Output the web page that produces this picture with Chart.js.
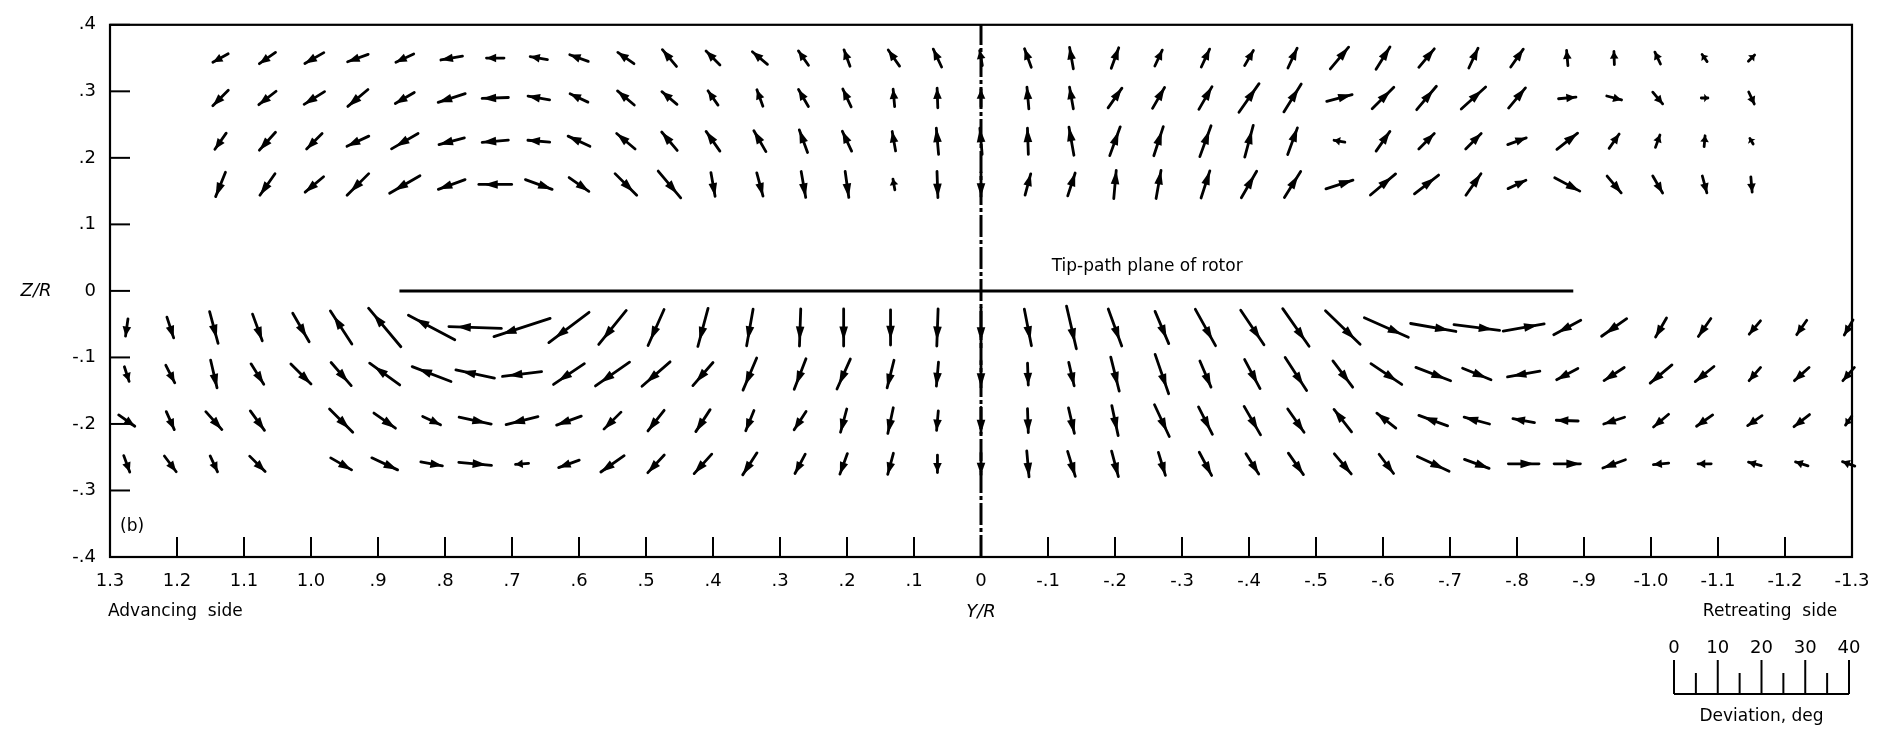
<!DOCTYPE html>
<html>
<head>
<meta charset="utf-8">
<script src="https://cdn.jsdelivr.net/npm/chart.js@4.4.0/dist/chart.umd.min.js"></script>
<style>
html, body { margin: 0; padding: 0; background: #fff; }
</style>
</head>
<body>
<canvas id="myChart" width="1888" height="733"></canvas>
<script>
// axis ticks
var xTickValues = [1.3, 1.2, 1.1, 1.0, 0.9, 0.8, 0.7, 0.6, 0.5, 0.4, 0.3, 0.2, 0.1, 0, -0.1, -0.2, -0.3, -0.4, -0.5, -0.6, -0.7, -0.8, -0.9, -1.0, -1.1, -1.2, -1.3];
var xTickLabels = ['1.3', '1.2', '1.1', '1.0', '.9', '.8', '.7', '.6', '.5', '.4', '.3', '.2', '.1', '0', '-.1', '-.2', '-.3', '-.4', '-.5', '-.6', '-.7', '-.8', '-.9', '-1.0', '-1.1', '-1.2', '-1.3'];
var yTickValues = [0.4, 0.3, 0.2, 0.1, 0, -0.1, -0.2, -0.3, -0.4];
var yTickLabels = ['.4', '.3', '.2', '.1', '0', '-.1', '-.2', '-.3', '-.4'];

// survey stations (Y/R) and rows (Z/R)
var upperStations = [1.135, 1.065, 0.995, 0.93, 0.86, 0.79, 0.725, 0.66, 0.6, 0.53, 0.465, 0.4, 0.33, 0.265, 0.2, 0.13, 0.065, 0, -0.07, -0.135, -0.2, -0.265, -0.335, -0.4, -0.465, -0.535, -0.6, -0.665, -0.735, -0.8, -0.875, -0.945, -1.01, -1.08, -1.15];
var upperRows = [0.35, 0.29, 0.225, 0.16];
var lowerStations = [1.275, 1.21, 1.145, 1.08, 1.015, 0.955, 0.89, 0.82, 0.755, 0.685, 0.615, 0.55, 0.485, 0.415, 0.345, 0.27, 0.205, 0.135, 0.065, 0, -0.07, -0.135, -0.2, -0.27, -0.335, -0.405, -0.47, -0.54, -0.605, -0.675, -0.74, -0.81, -0.875, -0.945, -1.015, -1.08, -1.155, -1.225, -1.295];
var lowerRows = [-0.055, -0.125, -0.195, -0.26];

// flow direction (deg, 0 = right, 90 = up) and deviation (deg) for each row
var dirU1 = [209, 215, 210, 200, 205, 190, 180, 170, 160, 145, 130, 135, 140, 125, 110, 125, 115, 100, 110, 100, 70, 65, 65, 60, 65, 50, 58, 50, 65, 55, 95, 92, 115, 125, 45];
var devU1 = [4, 4.5, 5, 5, 4.5, 5, 4, 4, 4.5, 4.5, 5, 4.5, 4.5, 4, 4, 4.5, 4.5, 3.5, 4.5, 5, 5, 4, 4.5, 4, 5, 6.5, 6, 5.5, 5, 5, 3.5, 3, 3, 2, 2];
var dirU2 = [225, 218, 212, 220, 210, 198, 182, 170, 155, 140, 140, 125, 110, 120, 115, 95, 92, 90, 95, 100, 55, 60, 60, 55, 58, 15, 45, 50, 42, 50, 5, 345, 310, 0, 295];
var devU2 = [5, 5, 5.5, 6, 5, 6.5, 6, 5, 4.5, 5, 4.5, 4, 4, 4.5, 4.5, 4, 4.5, 4, 5, 5, 5.5, 5.5, 6, 8, 7.5, 6, 7, 7, 7.5, 6, 4, 3.5, 3.5, 1.5, 3];
var dirU3 = [235, 228, 225, 205, 210, 195, 185, 175, 155, 140, 130, 125, 120, 110, 115, 100, 95, 95, 92, 100, 70, 72, 70, 75, 70, 170, 55, 45, 45, 20, 38, 55, 70, 85, 120];
var devU3 = [4.5, 5.5, 5, 5.5, 7, 6, 6, 5, 5.5, 5.5, 5.5, 5.5, 5.5, 5.5, 5, 4.5, 6, 6, 6, 6.5, 7, 7, 7.5, 7.5, 6.5, 2.5, 5.5, 5, 5, 4.5, 6, 4, 3, 2.5, 1.5];
var dirU4 = [248, 235, 220, 225, 210, 200, 180, 340, 325, 315, 310, 280, 285, 280, 278, 100, 272, 270, 75, 72, 85, 80, 72, 60, 58, 18, 40, 38, 55, 25, 332, 310, 300, 285, 275];
var devU4 = [6, 6, 5.5, 7, 8, 6.5, 7.5, 6.5, 5.5, 7, 8, 5.5, 5.5, 6, 6, 2.5, 6, 5.5, 5, 5.5, 6.5, 6.5, 6.5, 7, 7, 6.5, 7.5, 7, 6, 4.5, 6.5, 5, 4.5, 4, 3.5];

var dirL1 = [262, 288, 285, 290, 300, 123, 130, 152, 178, 198, 217, 231, 246, 255, 260, 268, 270, 270, 268, 270, 281, 283, 290, 293, 299, 304, 305, 316, 336, 350, 353, 10, 208, 215, 240, 235, 230, 235, 240];
var devL1 = [4, 5, 7.5, 6.5, 7.5, 9, 11.5, 12, 12, 13.5, 11.5, 10, 9, 9, 8.5, 8.5, 8.5, 8, 8.5, 9, 8.5, 10, 9, 8, 9.5, 9.5, 10.5, 11, 11, 10.5, 10.5, 9.5, 7, 7, 5, 5, 4, 4, 4];
var dirL2 = [288, 297, 283, 302, 315, 311, 144, 159, 168, 187, 214, 215, 221, 229, 247, 249, 246, 256, 265, 270, 272, 283, 284, 289, 293, 298, 303, 307, 326, 339, 338, 190, 208, 213, 220, 219, 229, 222, 229];
var devL2 = [3.5, 4.5, 6.5, 5.5, 6.5, 7, 8.5, 9.5, 9, 9, 8.5, 9.5, 8.5, 7, 8, 7.5, 7.5, 6.5, 5.5, 6, 5, 5.5, 8, 9.5, 6.5, 7.5, 9, 7.5, 8.5, 8.5, 7, 7.5, 5.5, 5.5, 6.5, 5.5, 4, 4.5, 4];
var dirL3 = [325, 294, 312, 306, null, 315, 325, 335, 348, 194, 200, 225, 232, 237, 248, 237, 255, 258, 265, 270, 272, 283, 282, 295, 297, 300, 305, 128, 142, 160, 165, 170, 178, 198, 220, 215, 215, 218, 235];
var devL3 = [4.5, 4.5, 5.5, 5.5, null, 7.5, 6, 4.5, 7.5, 7.5, 6, 5.5, 6, 6, 5, 5, 5.5, 6, 4.5, 6, 5.5, 6, 7, 8, 7, 7.5, 6.5, 6.5, 5.5, 7, 6, 5, 5, 5, 4.5, 4.5, 4, 4.5, 2.5];
var dirL4 = [290, 307, 295, 315, null, 330, 335, 350, 355, 185, 200, 215, 227, 228, 237, 242, 250, 255, 270, 270, 275, 287, 285, 287, 298, 302, 305, 310, 307, 335, 340, 0, 0, 200, 185, 180, 165, 162, 160];
var devL4 = [4, 4.5, 4, 5, null, 5.5, 6.5, 5, 7.5, 3, 5, 6.5, 5.5, 6, 6, 5, 5, 5, 4, 5, 6, 6, 6, 5.5, 6, 5.5, 6, 6, 5.5, 8, 6, 7, 6, 5.5, 3.5, 3, 3, 3, 3];

// reference lines
var tipPath = [{ x: 0.868, y: 0 }, { x: -0.884, y: 0 }];
var centerLine = [{ x: 0, y: -0.4 }, { x: 0, y: 0.4 }];

var deviationKey = [0, 5, 10, 15, 20, 25, 30, 35, 40];
var PX_PER_DEG = 175 / 40;
var FONT = 'DejaVu Sans';

function rowDataset(stations, z, dirs, devs) {
    var pts = [];
    stations.forEach(function(x, i) {
        if (dirs[i] === null) return;
        pts.push({ x: x, y: z, dir: dirs[i], dev: devs[i] });
    });
    return { data: pts, pointRadius: 0, showLine: false, arrows: true };
}

var datasets = [
    rowDataset(upperStations, upperRows[0], dirU1, devU1),
    rowDataset(upperStations, upperRows[1], dirU2, devU2),
    rowDataset(upperStations, upperRows[2], dirU3, devU3),
    rowDataset(upperStations, upperRows[3], dirU4, devU4),
    rowDataset(lowerStations, lowerRows[0], dirL1, devL1),
    rowDataset(lowerStations, lowerRows[1], dirL2, devL2),
    rowDataset(lowerStations, lowerRows[2], dirL3, devL3),
    rowDataset(lowerStations, lowerRows[3], dirL4, devL4),
    { data: tipPath, showLine: true, borderColor: '#000', borderWidth: 3, pointRadius: 0 },
    { data: centerLine, showLine: true, borderColor: '#000', borderWidth: 3, pointRadius: 0, borderDash: [22, 3, 4, 3] }
];

function drawArrow(ctx, cx, cy, dirDeg, dev) {
    var L = dev * PX_PER_DEG;
    var a = dirDeg * Math.PI / 180;
    var ux = Math.cos(a), uy = -Math.sin(a);
    var tx = cx - ux * L / 2, ty = cy - uy * L / 2;
    var hx = cx + ux * L / 2, hy = cy + uy * L / 2;
    ctx.beginPath();
    ctx.moveTo(tx, ty);
    ctx.lineTo(hx, hy);
    ctx.stroke();
    var inset = L > 30 ? L * 0.15 : 0;
    var hl = Math.min(14, L * 0.55), hw = 4.3;
    var px = hx - ux * inset, py = hy - uy * inset;
    var bx = px - ux * hl, by = py - uy * hl;
    ctx.beginPath();
    ctx.moveTo(px, py);
    ctx.lineTo(bx - uy * hw, by + ux * hw);
    ctx.lineTo(bx + uy * hw, by - ux * hw);
    ctx.closePath();
    ctx.fill();
}

var figurePlugin = {
    id: 'figure',
    afterDatasetsDraw: function(chart) {
        var ctx = chart.ctx;
        ctx.save();
        ctx.strokeStyle = '#000';
        ctx.fillStyle = '#000';
        ctx.lineWidth = 2.8;
        ctx.lineCap = 'round';
        chart.data.datasets.forEach(function(ds, i) {
            if (!ds.arrows) return;
            var meta = chart.getDatasetMeta(i);
            meta.data.forEach(function(el, j) {
                var p = ds.data[j];
                drawArrow(ctx, el.x, el.y, p.dir, p.dev);
            });
        });
        ctx.restore();
    },
    afterDraw: function(chart) {
        var ctx = chart.ctx;
        var area = chart.chartArea;
        var xs = chart.scales.x, ys = chart.scales.y;
        ctx.save();
        ctx.strokeStyle = '#000';
        ctx.fillStyle = '#000';

        // frame
        ctx.lineWidth = 2.2;
        ctx.strokeRect(area.left, area.top, area.right - area.left, area.bottom - area.top);

        // inner tick marks
        ctx.lineWidth = 2;
        xTickValues.forEach(function(v) {
            var px = xs.getPixelForValue(v);
            ctx.beginPath();
            ctx.moveTo(px, area.bottom);
            ctx.lineTo(px, area.bottom - 20);
            ctx.stroke();
        });
        yTickValues.forEach(function(v) {
            var py = ys.getPixelForValue(v);
            ctx.beginPath();
            ctx.moveTo(area.left, py);
            ctx.lineTo(area.left + 20, py);
            ctx.stroke();
        });

        // labels
        ctx.textBaseline = 'middle';
        ctx.textAlign = 'center';
        ctx.font = 'italic 18px ' + FONT;
        ctx.fillText('Z/R', 36, ys.getPixelForValue(0));
        ctx.fillText('Y/R', xs.getPixelForValue(0), 612);
        ctx.font = '17px ' + FONT;
        ctx.textAlign = 'left';
        ctx.fillText('Advancing  side', 108, 612);
        ctx.fillText('(b)', 120, 527);
        ctx.textAlign = 'center';
        ctx.fillText('Retreating  side', 1770, 612);
        ctx.fillText('Tip-path plane of rotor', xs.getPixelForValue(-0.248), ys.getPixelForValue(0.037));

        // deviation key
        var k0 = 1674, kb = 694;
        ctx.lineWidth = 2;
        ctx.beginPath();
        ctx.moveTo(k0, kb);
        ctx.lineTo(k0 + 40 * PX_PER_DEG, kb);
        ctx.stroke();
        ctx.font = '18px ' + FONT;
        deviationKey.forEach(function(d) {
            var kx = k0 + d * PX_PER_DEG;
            var major = d % 10 === 0;
            ctx.beginPath();
            ctx.moveTo(kx, kb);
            ctx.lineTo(kx, kb - (major ? 34 : 21));
            ctx.stroke();
            if (major) ctx.fillText(String(d), kx, 648);
        });
        ctx.font = '17px ' + FONT;
        ctx.fillText('Deviation, deg', k0 + 20 * PX_PER_DEG, 717);
        ctx.restore();
    }
};

function labelFor(values, labels, value) {
    for (var i = 0; i < values.length; i++) {
        if (Math.abs(values[i] - value) < 1e-6) return labels[i];
    }
    return '';
}

var ctx = document.getElementById('myChart').getContext('2d');
var myChart = new Chart(ctx, {
    type: 'scatter',
    data: { datasets: datasets },
    options: {
        responsive: false,
        animation: false,
        devicePixelRatio: 1,
        layout: { padding: { left: 0, right: 36, top: 15, bottom: 0 } },
        plugins: { legend: { display: false }, tooltip: { enabled: false } },
        scales: {
            x: {
                type: 'linear',
                min: -1.3,
                max: 1.3,
                reverse: true,
                grid: { display: false, drawTicks: false },
                border: { display: true, color: '#000', width: 2 },
                afterBuildTicks: function(scale) {
                    scale.ticks = xTickValues.map(function(v) { return { value: v }; });
                },
                ticks: {
                    autoSkip: false,
                    maxRotation: 0,
                    padding: 14,
                    color: '#000',
                    font: { family: FONT, size: 18 },
                    callback: function(value) { return labelFor(xTickValues, xTickLabels, value); }
                },
                afterFit: function(scale) { scale.height = 176; }
            },
            y: {
                type: 'linear',
                min: -0.4,
                max: 0.4,
                grid: { display: false, drawTicks: false },
                border: { display: true, color: '#000', width: 2 },
                afterBuildTicks: function(scale) {
                    scale.ticks = yTickValues.map(function(v) { return { value: v }; });
                },
                ticks: {
                    autoSkip: false,
                    padding: 14,
                    color: '#000',
                    font: { family: FONT, size: 18 },
                    callback: function(value) { return labelFor(yTickValues, yTickLabels, value); }
                },
                afterFit: function(scale) { scale.width = 110; }
            }
        }
    },
    plugins: [figurePlugin]
});
</script>
</body>
</html>
